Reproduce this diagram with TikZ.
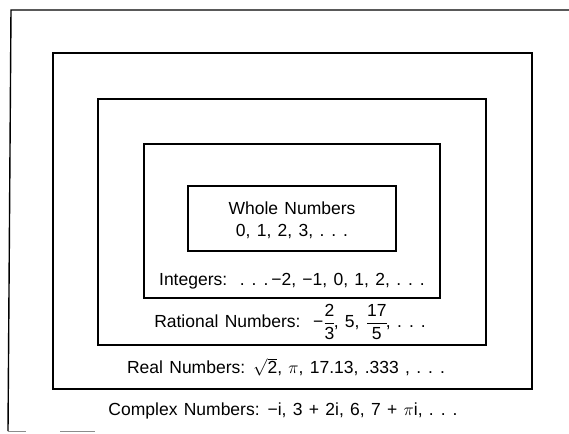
\documentclass[tikz,border=0pt]{standalone}
\usepackage{fontspec}
\setmainfont{Liberation Sans}
\newcommand{\dts}{.\hspace{0.4em}.\hspace{0.4em}.}
\newcommand{\myfrac}[2]{$\displaystyle\frac{\mbox{#1}}{\mbox{#2}}$}
\newcommand{\lblfont}{\fontsize{17.5}{20}\selectfont\spaceskip=0.36em\relax}
\begin{document}
\begin{tikzpicture}[x=1pt,y=-1pt,
  box/.style={draw=black,line width=1.4pt},
  lbl/.style={font=\lblfont,inner sep=0pt,anchor=center}]
\useasboundingbox (0,0) rectangle (569,433);
\fill[white] (0,0) rectangle (569,433);
% outer (complex) frame, cut by the page edge
\draw[box] (569,10) -- (11,10) -- (8,431);
\draw[line width=0.8pt,black!45] (8,431) -- (26,431) (60,431) -- (95,431);
% real
\draw[box] (53,53) rectangle (532,389);
% rational
\draw[box] (98,99) rectangle (486,345);
% integers
\draw[box] (144,144) rectangle (440,298);
% whole
\draw[box] (188,186) rectangle (396,251);
\node[lbl] (whole) at (292,208) {Whole Numbers};
\node[lbl] (wholeset) at (292,232) {0, 1, 2, 3, \dts};
\node[lbl] (int) at (292,281) {Integers:\ \ \dts\,−2, −1, 0, 1, 2, \dts};
\node[lbl] (rat) at (290,322) {Rational Numbers:\ \ −\myfrac{2}{3}\hspace{-0.1em}, 5, \myfrac{17}{5}\hspace{-0.1em}, \dts};
\node[lbl] (real) at (286,367) {Real Numbers: $\sqrt{\mbox{2}}$, $\pi$, 17.13, .333 , \dts};
\node[lbl] (cplx) at (283,411) {Complex Numbers: −i, 3 + 2i, 6, 7 + $\pi$i, \dts};
\end{tikzpicture}
\end{document}
